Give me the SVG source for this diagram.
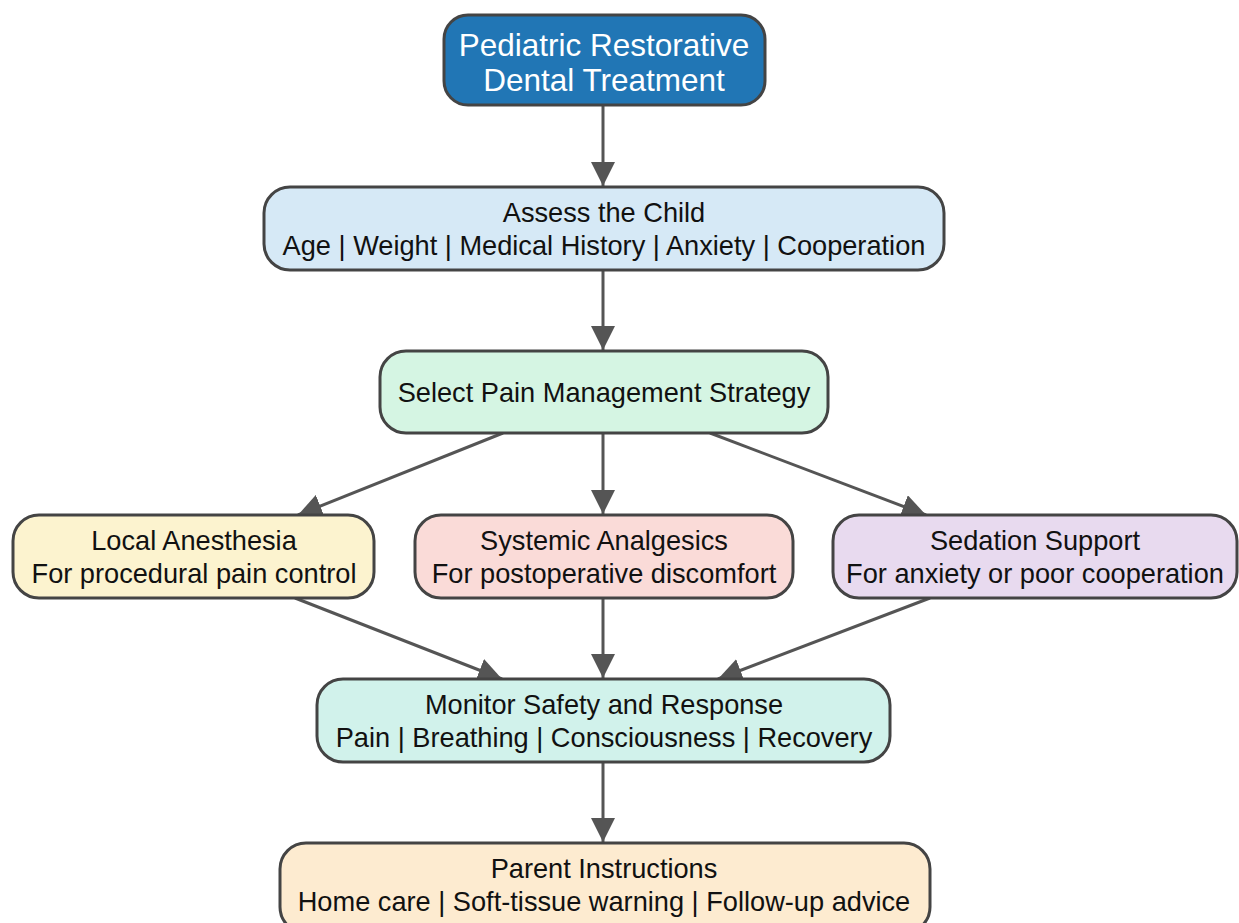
<svg xmlns="http://www.w3.org/2000/svg" width="1239" height="923" viewBox="0 0 1239 923">
<defs>
<style>
.n{stroke:#444;stroke-width:3}
.t{font-family:"Liberation Sans",Arial,sans-serif;font-size:27.2px;fill:#111;text-anchor:middle}
.w{font-family:"Liberation Sans",Arial,sans-serif;font-size:31.5px;fill:#fff;text-anchor:middle}
.e{stroke:#555;stroke-width:3;fill:none;marker-end:url(#ah)}
</style>
<marker id="ah" viewBox="0 0 10 10" refX="10" refY="5" markerWidth="8" markerHeight="8" orient="auto" markerUnits="strokeWidth">
<path d="M0,0 L10,5 L0,10 z" fill="#555"/>
</marker>
</defs>
<rect width="1239" height="923" fill="#fff"/>
<g id="connectors">
<line class="e" x1="603" y1="105" x2="603" y2="186"/>
<line class="e" x1="603" y1="270" x2="603" y2="350"/>
<line class="e" x1="503" y1="433" x2="298" y2="515"/>
<line class="e" x1="603" y1="433" x2="603" y2="514"/>
<line class="e" x1="710" y1="433" x2="926" y2="515"/>
<line class="e" x1="295" y1="598" x2="502" y2="679"/>
<line class="e" x1="603" y1="598" x2="603" y2="678"/>
<line class="e" x1="930" y1="598" x2="718" y2="679"/>
<line class="e" x1="603" y1="762" x2="603" y2="842"/>
</g>
<g id="n-root">
<rect class="n" x="444" y="15" width="321" height="90" rx="24" fill="#2176b5"/>
<text class="w" x="604" y="56">Pediatric Restorative</text>
<text class="w" x="604" y="91">Dental Treatment</text>
</g>
<g id="n-assess">
<rect class="n" x="264" y="187" width="680" height="83" rx="26" fill="#d6e9f6"/>
<text class="t" x="604" y="222">Assess the Child</text>
<text class="t" x="604" y="255">Age | Weight | Medical History | Anxiety | Cooperation</text>
</g>
<g id="n-select">
<rect class="n" x="380" y="351" width="448" height="82" rx="26" fill="#d5f5e3"/>
<text class="t" x="604" y="402">Select Pain Management Strategy</text>
</g>
<g id="n-local">
<rect class="n" x="13" y="515" width="361" height="83" rx="26" fill="#fcf3cf"/>
<text class="t" x="194" y="550">Local Anesthesia</text>
<text class="t" x="194" y="583">For procedural pain control</text>
</g>
<g id="n-systemic">
<rect class="n" x="415" y="515" width="378" height="83" rx="26" fill="#fadbd8"/>
<text class="t" x="604" y="550">Systemic Analgesics</text>
<text class="t" x="604" y="583">For postoperative discomfort</text>
</g>
<g id="n-sedation">
<rect class="n" x="833" y="515" width="404" height="83" rx="26" fill="#e8daef"/>
<text class="t" x="1035" y="550">Sedation Support</text>
<text class="t" x="1035" y="583">For anxiety or poor cooperation</text>
</g>
<g id="n-monitor">
<rect class="n" x="317" y="679" width="573" height="83" rx="26" fill="#d1f2eb"/>
<text class="t" x="604" y="714">Monitor Safety and Response</text>
<text class="t" x="604" y="747">Pain | Breathing | Consciousness | Recovery</text>
</g>
<g id="n-parent">
<rect class="n" x="280" y="843" width="650" height="90" rx="26" fill="#fdebd0"/>
<text class="t" x="604" y="878">Parent Instructions</text>
<text class="t" x="604" y="911">Home care | Soft-tissue warning | Follow-up advice</text>
</g>
</svg>
